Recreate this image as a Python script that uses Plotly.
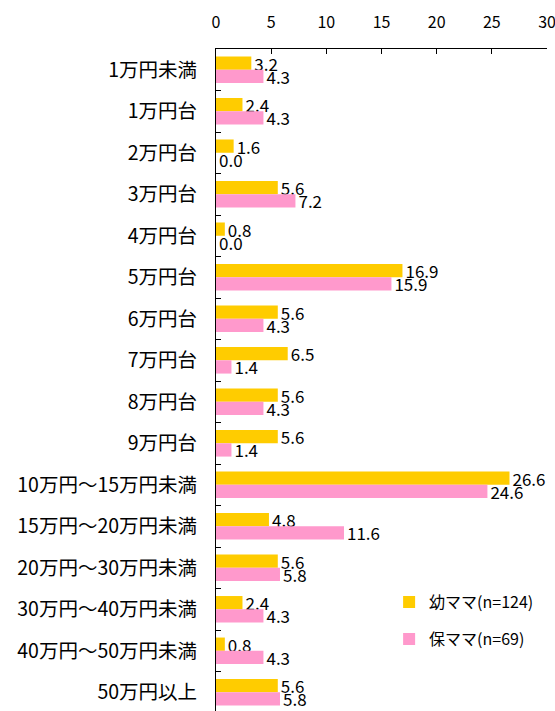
import plotly.graph_objects as go

categories = ["1万円未満", "1万円台", "2万円台", "3万円台", "4万円台", "5万円台", "6万円台",
              "7万円台", "8万円台", "9万円台", "10万円～15万円未満", "15万円～20万円未満",
              "20万円～30万円未満", "30万円～40万円未満", "40万円～50万円未満", "50万円以上"]
you_mama = [3.2, 2.4, 1.6, 5.6, 0.8, 16.9, 5.6, 6.5, 5.6, 5.6, 26.6, 4.8, 5.6, 2.4, 0.8, 5.6]
ho_mama = [4.3, 4.3, 0.0, 7.2, 0.0, 15.9, 4.3, 1.4, 4.3, 1.4, 24.6, 11.6, 5.8, 4.3, 4.3, 5.8]
series_names = ["幼ママ(n=124)", "保ママ(n=69)"]
colors = ["#FFCC00", "#FF99CC"]
x_ticks = [0, 5, 10, 15, 20, 25, 30]

FONT = "Noto Sans CJK JP"

fig = go.Figure()
for name, vals, col, grp in [(series_names[0], you_mama, colors[0], "a"),
                             (series_names[1], ho_mama, colors[1], "b")]:
    fig.add_trace(go.Bar(
        y=categories, x=vals, orientation="h", name=name, legendgroup=grp,
        marker=dict(color=col, line=dict(width=0)),
        text=[f"{v:.1f}" for v in vals], textposition="outside",
        textfont=dict(family=FONT, size=17, color="#000000"),
        constraintext="none", cliponaxis=True,
    ))

# the last category runs off the bottom edge as in the reference
fig.update_layout(
    width=555, height=711,
    margin=dict(l=216, r=8, t=49, b=0, autoexpand=False),
    paper_bgcolor="white", plot_bgcolor="white",
    barmode="group", bargap=0.36, bargroupgap=0,
    font=dict(family=FONT, size=16, color="#000000"),
    showlegend=True,
    legend=dict(x=0.523, y=0.19, xanchor="left", yanchor="top",
                traceorder="grouped", tracegroupgap=13,
                font=dict(family=FONT, size=16, color="#000000"),
                bgcolor="rgba(0,0,0,0)", itemwidth=30),
    xaxis=dict(side="top", range=[0, 30], tickvals=x_ticks, ticktext=[str(t) for t in x_ticks],
               automargin=False, ticklabeloverflow="allow",
               showgrid=False, zeroline=False, showline=True, linecolor="#000000", linewidth=1,
               ticks="inside", ticklen=5, tickcolor="#000000", ticklabelstandoff=14,
               tickfont=dict(family=FONT, size=16)),
    yaxis=dict(range=[15.45, -0.5], automargin=False, showgrid=False, zeroline=False, showline=True,
               linecolor="#000000", linewidth=1, ticks="inside", ticklen=5,
               tickcolor="#000000", tickson="boundaries", ticklabelstandoff=14,
               tickfont=dict(family=FONT, size=19.5)),
)

fig.write_html(
    "out.html",
    config={"displayModeBar": False},
    post_script="document.body.style.margin='0';document.body.style.overflow='hidden';",
)
